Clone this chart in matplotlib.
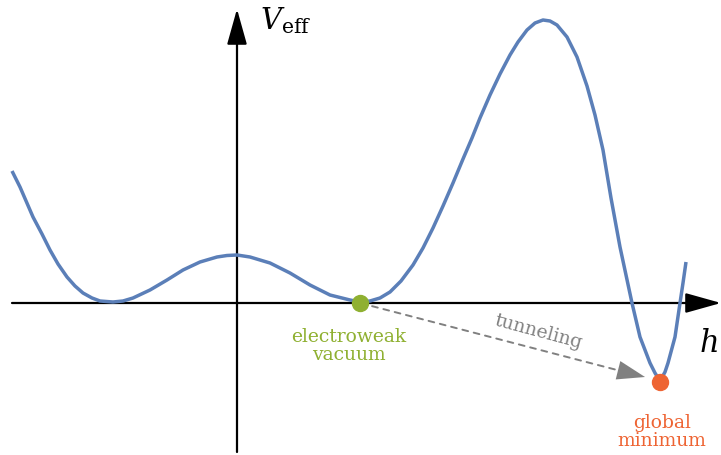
import matplotlib
matplotlib.use("Agg")
import matplotlib.pyplot as plt

plt.rcParams["mathtext.fontset"] = "dejavuserif"

# Effective potential curve
h_vals = [-2.25, -2.17, -2.04, -1.95, -1.87, -1.79, -1.70, -1.62, -1.54, -1.45,
          -1.37, -1.24, -1.14, -1.04, -0.87, -0.70, -0.54, -0.37, -0.20, -0.10,
          0.00, 0.13, 0.33, 0.53, 0.73, 0.93, 1.13, 1.23, 1.33, 1.43,
          1.53, 1.64, 1.76, 1.86, 1.96, 2.06, 2.16, 2.26, 2.35, 2.43,
          2.53, 2.63, 2.73, 2.81, 2.90, 2.98, 3.06, 3.13, 3.20,
          3.30, 3.40, 3.50, 3.58, 3.66, 3.74, 3.83, 3.95, 4.03, 4.13,
          4.18, 4.23, 4.28, 4.31, 4.38, 4.43, 4.46, 4.49]
v_vals = [1.32, 1.16, 0.86, 0.69, 0.53, 0.39, 0.26, 0.17, 0.10, 0.05,
          0.02, 0.01, 0.02, 0.05, 0.13, 0.23, 0.33, 0.41, 0.46, 0.475,
          0.48, 0.46, 0.40, 0.30, 0.18, 0.08, 0.03, 0.01, 0.02, 0.05,
          0.11, 0.22, 0.38, 0.55, 0.75, 0.97, 1.20, 1.44, 1.65, 1.85,
          2.08, 2.29, 2.48, 2.61, 2.73, 2.80, 2.83, 2.82, 2.78,
          2.66, 2.46, 2.17, 1.88, 1.53, 1.05, 0.56, 0.00, -0.34, -0.60,
          -0.70, -0.78, -0.69, -0.60, -0.34, 0.00, 0.20, 0.41]

ew_point = (1.23, 0.0)
global_point = (4.23, -0.79)

labels = {"ew": "electroweak\nvacuum", "gm": "global\nminimum", "tun": "tunneling"}

blue = "#5b7fb8"
green = "#8fb031"
orange = "#ee6433"
grey = "#808080"

fig = plt.figure(figsize=(7.21, 4.55), dpi=100)
ax = fig.add_axes([0, 0, 1, 1])
ax.set_xlim(-2.37, 4.84)
ax.set_ylim(-1.52, 3.03)
ax.axis("off")

serif = ["DejaVu Serif"]

# axes arrows
axis_arrow = dict(arrowstyle="-|>,head_length=1.0,head_width=0.28",
                  mutation_scale=22, lw=1.6, color="black", shrinkA=0, shrinkB=0)
ax.annotate("", xy=(4.84, 0), xytext=(-2.25, 0), arrowprops=axis_arrow,
            annotation_clip=False, zorder=2)
ax.annotate("", xy=(0, 2.94), xytext=(0, -1.49), arrowprops=axis_arrow,
            annotation_clip=False, zorder=2)

ax.plot(h_vals, v_vals, color=blue, lw=2.5, solid_capstyle="butt",
        solid_joinstyle="round", zorder=3)

# tunneling arrow: dashed shaft + solid head
tip = (4.08, -0.74)
base = (3.80, -0.67)
ax.annotate("", xy=base, xytext=ew_point,
            arrowprops=dict(arrowstyle="-", lw=1.4, color=grey,
                            linestyle=(0, (3, 3)), shrinkA=9, shrinkB=0), zorder=2)
ax.annotate("", xy=tip, xytext=base,
            arrowprops=dict(arrowstyle="-|>,head_length=1.0,head_width=0.34",
                            mutation_scale=20, lw=0.01, color=grey,
                            shrinkA=0, shrinkB=0), zorder=2)

ax.plot(*ew_point, "o", color=green, ms=11.5, zorder=4)
ax.plot(*global_point, "o", color=orange, ms=11.5, zorder=4)

ax.text(1.12, -0.43, labels["ew"], color=green, fontsize=13.5, family=serif,
        ha="center", va="center", linespacing=0.95)
ax.text(4.25, -1.29, labels["gm"], color=orange, fontsize=13.5, family=serif,
        ha="center", va="center", linespacing=0.95)
ax.text(3.01, -0.29, labels["tun"], color=grey, fontsize=13.5, family=serif,
        ha="center", va="center", rotation=-15, rotation_mode="anchor")

ax.text(0.23, 2.82, r"$V_{\mathrm{eff}}$", fontsize=21, ha="left", va="center")
ax.text(4.71, -0.40, r"$h$", fontsize=22, ha="center", va="center")

fig.savefig("out.png", dpi=100)
